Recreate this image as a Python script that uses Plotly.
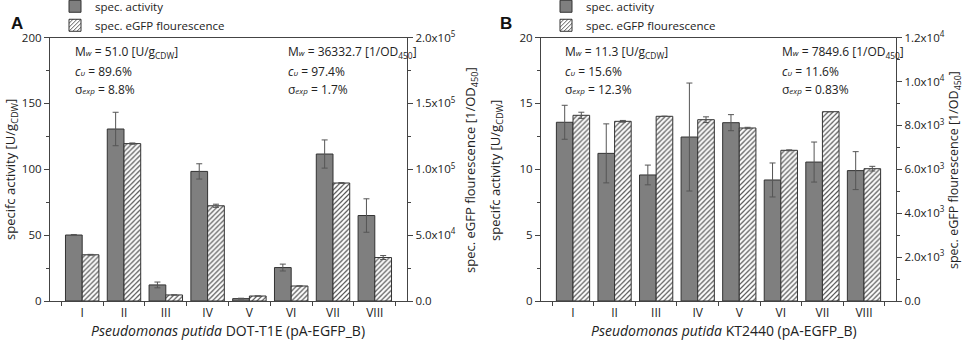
import plotly.graph_objects as go

categories = ["I", "II", "III", "IV", "V", "VI", "VII", "VIII"]

a_activity = [50.1, 130.6, 12.2, 98.4, 1.8, 25.4, 111.6, 64.9]
a_activity_err = [0.4, 12.7, 2.2, 5.8, 0.3, 2.6, 10.7, 12.7]
a_fluor = [35100, 119500, 4600, 72300, 3800, 11400, 89600, 33000]
a_fluor_err = [300, 500, 0, 1200, 0, 0, 300, 1500]

b_activity = [13.57, 11.21, 9.57, 12.45, 13.54, 9.19, 10.55, 9.90]
b_activity_err = [1.29, 2.24, 0.75, 4.10, 0.61, 1.29, 1.52, 1.44]
b_fluor = [8460, 8186, 8414, 8260, 7883, 6865, 8624, 6028]
b_fluor_err = [140, 40, 0, 130, 30, 20, 0, 107]

a_right_ticks = [0, 50000, 100000, 150000, 200000]
a_right_text = ["0.0", "5.0x10<sup>4</sup>", "1.0x10<sup>5</sup>", "1.5x10<sup>5</sup>", "2.0x10<sup>5</sup>"]
b_right_ticks = [0, 2000, 4000, 6000, 8000, 10000, 12000]
b_right_text = ["0.0", "2.0x10<sup>3</sup>", "4.0x10<sup>3</sup>", "6.0x10<sup>3</sup>",
                "8.0x10<sup>3</sup>", "1.0x10<sup>4</sup>", "1.2x10<sup>4</sup>"]

W, H = 964, 343
FONT = "Open Sans"
AX = "#444444"
TXT = "#222222"
DARK = "#7f7f7f"
EDGE = "#333333"

fig = go.Figure()

def add_panel(xa, ya, ya2, act, act_err, flu, flu_err, legend):
    fig.add_trace(go.Bar(
        x=categories, y=act, name="spec. activity", xaxis=xa, yaxis=ya,
        offset=-0.4, width=0.4, legend=legend, showlegend=True,
        marker=dict(color=DARK, line=dict(color=EDGE, width=1)),
        error_y=dict(type="data", array=act_err, color="#555555", thickness=1, width=3),
    ))
    fig.add_trace(go.Bar(
        x=categories, y=flu, name="spec. eGFP flourescence", xaxis=xa, yaxis=ya2,
        offset=0.0, width=0.4, legend=legend, showlegend=True,
        marker=dict(color="white", line=dict(color=EDGE, width=1),
                    pattern=dict(shape="/", fgcolor="#555555", bgcolor="white",
                                 size=3.5, solidity=0.35)),
        error_y=dict(type="data", array=flu_err, color="#555555", thickness=1, width=3),
    ))

add_panel("x", "y", "y2", a_activity, a_activity_err, a_fluor, a_fluor_err, "legend")
add_panel("x3", "y3", "y4", b_activity, b_activity_err, b_fluor, b_fluor_err, "legend2")

ydom = [(H - 301) / H, (H - 37.6) / H]
xA = [50 / W, 407 / W]
xB = [541 / W, 896 / W]
tickfont = dict(family=FONT, size=11.5, color=TXT)

def xaxis_cfg(dom, anchor):
    return dict(domain=dom, anchor=anchor, type="category", range=[-0.77, 7.77],
                showline=True, linecolor=AX, linewidth=1.2, mirror=True,
                ticks="outside", tickson="boundaries", ticklen=4, tickcolor=AX,
                tickfont=dict(family=FONT, size=12, color=TXT),
                showgrid=False, zeroline=False, automargin=False)

def yleft_cfg(anchor, rng, dtick, minor):
    return dict(domain=ydom, anchor=anchor, range=rng, dtick=dtick, tick0=0,
                showline=True, linecolor=AX, linewidth=1.2,
                ticks="outside", ticklen=5, tickcolor=AX, tickfont=tickfont,
                minor=dict(dtick=minor, tick0=0, ticks="outside", ticklen=3, tickcolor=AX),
                showgrid=False, zeroline=False, automargin=False)

def yright_cfg(anchor, overlay, rng, vals, text, minorvals):
    return dict(domain=ydom, anchor=anchor, overlaying=overlay, side="right", range=rng,
                tickmode="array", tickvals=vals, ticktext=text,
                showline=True, linecolor=AX, linewidth=1.2,
                ticks="outside", ticklen=5, tickcolor=AX, tickfont=tickfont,
                minor=dict(tickmode="array", tickvals=minorvals, ticks="outside", ticklen=3, tickcolor=AX),
                showgrid=False, zeroline=False, automargin=False)

legend_font = dict(family=FONT, size=11.5, color=TXT)

fig.update_layout(
    width=W, height=H,
    margin=dict(l=0, r=0, t=0, b=0, autoexpand=False),
    paper_bgcolor="white", plot_bgcolor="white",
    template="none",
    barmode="overlay",
    font=dict(family=FONT, size=12, color=TXT),
    xaxis=xaxis_cfg(xA, "y"),
    yaxis=yleft_cfg("x", [0, 200], 50, 25),
    yaxis2=yright_cfg("x", "y", [0, 200000], a_right_ticks, a_right_text,
                      [25000, 75000, 125000, 175000]),
    xaxis3=xaxis_cfg(xB, "y3"),
    yaxis3=yleft_cfg("x3", [0, 20], 5, 2.5),
    yaxis4=yright_cfg("x3", "y3", [0, 12000], b_right_ticks, b_right_text,
                      [1000, 3000, 5000, 7000, 9000, 11000]),
    legend=dict(x=55 / W, y=1.024, xanchor="left", yanchor="top", bgcolor="rgba(0,0,0,0)",
                font=legend_font, tracegroupgap=0, itemwidth=30),
    legend2=dict(x=546 / W, y=1.024, xanchor="left", yanchor="top", bgcolor="rgba(0,0,0,0)",
                 font=legend_font, tracegroupgap=0, itemwidth=30),
)

def px(x):
    return x / W

def py(y):
    return 1 - y / H

ann = []
def text(x, y, s, size=12, xanchor="left", angle=0, bold=False, family=FONT):
    ann.append(dict(x=px(x), y=py(y), xref="paper", yref="paper", text=s, showarrow=False,
                    xanchor=xanchor, yanchor="middle", textangle=angle,
                    font=dict(family=family, size=size, color="#111111" if bold else TXT)))

# panel letters
text(17, 23, "<b>A</b>", size=17, xanchor="center", bold=True, family="Liberation Sans")
text(506, 23, "<b>B</b>", size=17, xanchor="center", bold=True, family="Liberation Sans")

MW = "M<span style='font-size:8px'><i>w</i></span>"
CV = "<i>c</i><span style='font-size:8px'><i>υ</i></span>"
SE = "σ<span style='font-size:8px'><i>exp</i></span>"

def stats(x, y0, mw, cv, se):
    text(x, y0, MW + " = " + mw, size=12)
    text(x, y0 + 19, CV + " = " + cv, size=12)
    text(x, y0 + 37, SE + " = " + se, size=12)

stats(73, 52, "51.0 [U/g<sub>CDW</sub>]", "89.6%", "8.8%")
stats(286, 52, "36332.7 [1/OD<sub>450</sub>]", "97.4%", "1.7%")
stats(563, 52, "11.3 [U/g<sub>CDW</sub>]", "15.6%", "12.3%")
stats(780, 52, "7849.6 [1/OD<sub>450</sub>]", "11.6%", "0.83%")

# axis titles
text(228, 330, "<i>Pseudomonas putida</i> DOT-T1E (pA-EGFP_B)", size=14, xanchor="center")
text(724, 330, "<i>Pseudomonas putida</i> KT2440 (pA-EGFP_B)", size=14, xanchor="center")
text(11, 170, "specifc activity [U/g<sub>CDW</sub>]", size=13, xanchor="center", angle=-90)
text(496, 170, "specifc activity [U/g<sub>CDW</sub>]", size=13, xanchor="center", angle=-90)
text(471, 170, "spec. eGFP flourescence [1/OD<sub>450</sub>]", size=13, xanchor="center", angle=-90)
text(954, 170, "spec. eGFP flourescence [1/OD<sub>450</sub>]", size=12.5, xanchor="center", angle=-90)

fig.update_layout(annotations=ann)

fig.write_html("out.html", post_script="document.body.style.margin='0';",
               config={"displayModeBar": False})
